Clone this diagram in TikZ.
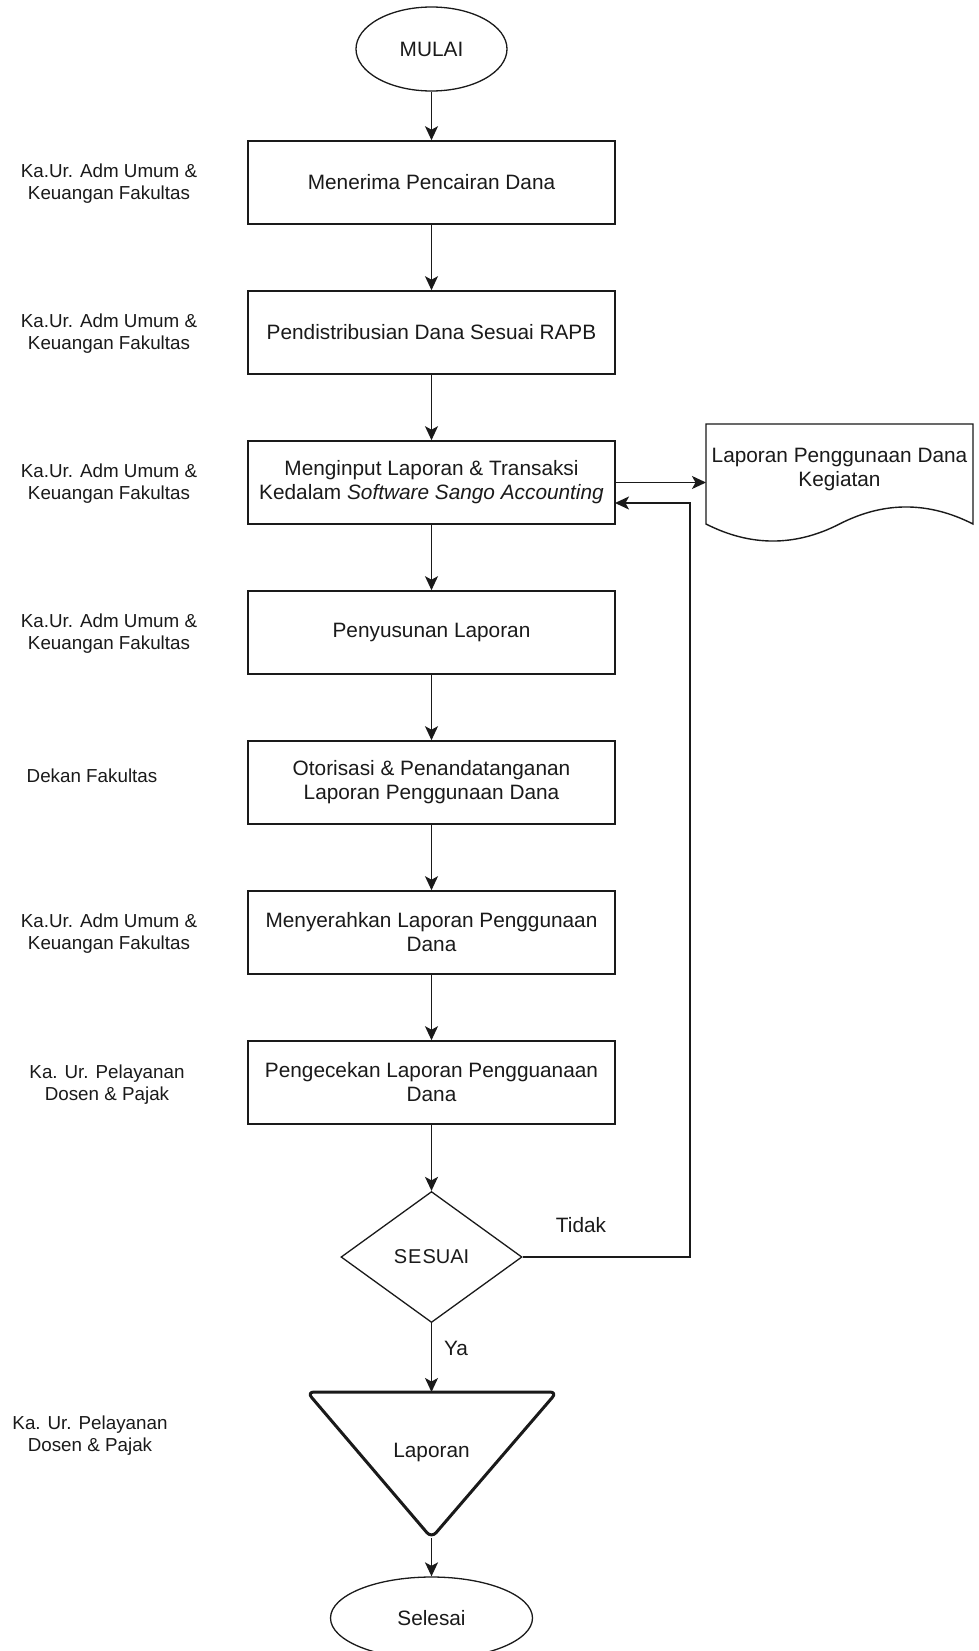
\documentclass[tikz,border=0pt]{standalone}
\usepackage{fontspec}
\setmainfont{Liberation Sans}
\usetikzlibrary{shapes.geometric,arrows.meta}
\definecolor{ink}{HTML}{1A1A1A}
\begin{document}
\begin{tikzpicture}[x=1pt,y=-1pt,
  every node/.style={text=ink},
  proc/.style={draw=ink,line width=1.6pt,fill=white,rectangle,minimum width=367,minimum height=83,
    inner sep=0,align=center,font=\fontsize{20.8}{24}\selectfont},
  term/.style={draw=ink,line width=1.3pt,ellipse,inner sep=0,font=\fontsize{20.8}{24}\selectfont},
  role/.style={align=center,inner sep=0,font=\fontsize{18.8}{22}\selectfont},
  tag/.style={inner sep=0,font=\fontsize{20.8}{24}\selectfont},
  arr/.style={draw=ink,line width=1.6pt,-{Stealth[length=14pt,width=13pt,inset=3.5pt]}}]
  % page
  \path[fill=white,use as bounding box] (0,0) rectangle (979,1651);

  % terminals
  \node[term,minimum width=151,minimum height=84] (start) at (431.5,49) {MULAI};
  \node[term,minimum width=202,minimum height=82] (stop) at (431.5,1618) {Selesai};

  % process steps
  \node[proc] (p1) at (431.5,182.5) {Menerima Pencairan Dana};
  \node[proc] (p2) at (431.5,332.5) {Pendistribusian Dana Sesuai RAPB};
  \node[proc] (p3) at (431.5,482.5) {Menginput Laporan \& Transaksi\\Kedalam \textit{Software Sango Accounting}};
  \node[proc] (p4) at (431.5,632.5) {Penyusunan Laporan};
  \node[proc] (p5) at (431.5,782.5) {Otorisasi \& Penandatanganan\\Laporan Penggunaan Dana};
  \node[proc] (p6) at (431.5,932.5) {Menyerahkan Laporan Penggunaan\\Dana};
  \node[proc] (p7) at (431.5,1082.5) {Pengecekan Laporan Pengguanaan\\Dana};

  % decision
  \node[draw=ink,line width=1.3pt,diamond,inner sep=0,minimum width=181,minimum height=131,
    font=\fontsize{20}{24}\selectfont] (dec) at (431.5,1257) {S\kern1pt E\kern1pt SUAI};

  % report (manual output triangle)
  \coordinate (lapTop) at (431.5,1392);
  \coordinate (lapTip) at (431.5,1538);
  \draw[draw=ink,line width=3pt,rounded corners=7pt,line join=round]
    (307,1392) -- (557,1392) -- (lapTip) -- cycle;
  \node[tag] (lap) at (431.5,1452) {Laporan};

  % document output
  \draw[draw=ink,line width=1.4pt,fill=white]
    (706,424) -- (973,424) -- (973,524)
    .. controls (928.3,501.3) and (883.8,501.3) .. (839.5,524)
    .. controls (795.2,546.7) and (750.7,546.7) .. (706,524) -- cycle;
  \node[tag,align=center] (doc) at (839.5,469) {Laporan Penggunaan Dana\\Kegiatan};
  \coordinate (docL) at (706,482.5);

  % roles
  \node[role] (r1) at (109,184) {Ka.Ur. Adm Umum \&\\Keuangan Fakultas};
  \node[role] (r2) at (109,334) {Ka.Ur. Adm Umum \&\\Keuangan Fakultas};
  \node[role] (r3) at (109,484) {Ka.Ur. Adm Umum \&\\Keuangan Fakultas};
  \node[role] (r4) at (109,634) {Ka.Ur. Adm Umum \&\\Keuangan Fakultas};
  \node[role] (r5) at (92,776) {Dekan Fakultas};
  \node[role] (r6) at (109,934) {Ka.Ur. Adm Umum \&\\Keuangan Fakultas};
  \node[role] (r7) at (107,1085) {Ka. Ur. Pelayanan\\Dosen \& Pajak};
  \node[role] (r8) at (90,1436) {Ka. Ur. Pelayanan\\Dosen \& Pajak};

  % main flow
  \draw[arr] (start) -- (p1);
  \draw[arr] (p1) -- (p2);
  \draw[arr] (p2) -- (p3);
  \draw[arr] (p3) -- (p4);
  \draw[arr] (p4) -- (p5);
  \draw[arr] (p5) -- (p6);
  \draw[arr] (p6) -- (p7);
  \draw[arr] (p7) -- (dec);
  \draw[arr] (dec.south) -- (lapTop);
  \draw[arr] (lapTip) -- (stop);
  \draw[arr] (p3.east) -- (docL);

  % rejection loop
  \coordinate (fbx) at (690,0);
  \coordinate (fbIn) at (615,503);
  \draw[arr] (dec.east) -- (dec.east -| fbx) -- (fbx |- fbIn) -- (fbIn);

  % branch labels
  \node[tag] (tidak) at (581,1225) {Tidak};
  \node[tag] (ya) at (456,1348) {Ya};
\end{tikzpicture}
\end{document}
